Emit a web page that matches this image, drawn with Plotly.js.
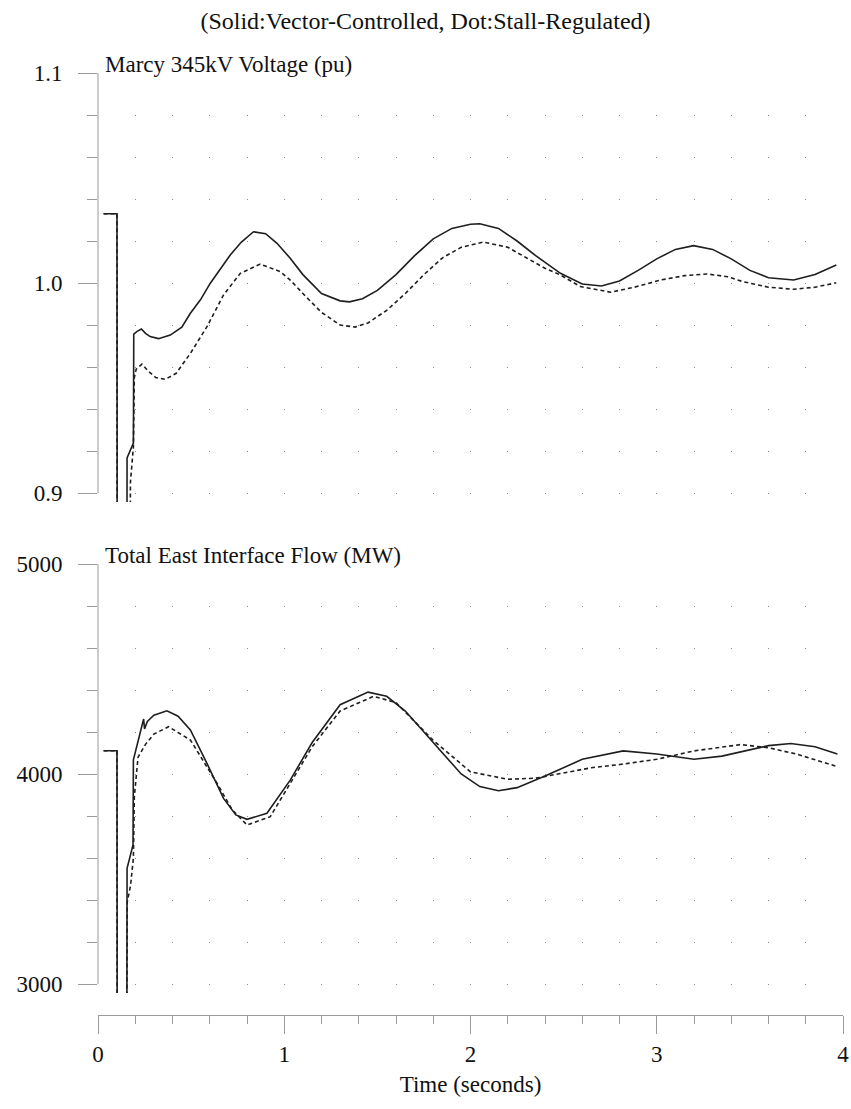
<!DOCTYPE html>
<html>
<head>
<meta charset="utf-8">
<script src="https://cdn.plot.ly/plotly-3.0.1.min.js"></script>
<style>html,body{margin:0;padding:0;background:#fff;}#chart{width:851px;height:1109px;}</style>
</head>
<body>
<div id="chart"></div>
<script>
// ---- Data ----
const chartTitle = "(Solid:Vector-Controlled, Dot:Stall-Regulated)";
const topLabel = "Marcy 345kV Voltage (pu)";
const bottomLabel = "Total East Interface Flow (MW)";
const xTitle = "Time (seconds)";

const xTicks = [0, 1, 2, 3, 4];
const vTicks = [0.9, 1.0, 1.1];
const pTicks = [3000, 4000, 5000];

// Marcy 345kV voltage (pu) – solid: vector-controlled
const tV_solid = [0.03, 0.102, 0.103, 0.155, 0.156, 0.19, 0.192, 0.21, 0.233, 0.255, 0.28, 0.325, 0.388, 0.45, 0.496, 0.55, 0.603, 0.66, 0.71, 0.77, 0.835, 0.9, 0.961, 1.032, 1.1, 1.2, 1.3, 1.35, 1.42, 1.5, 1.6, 1.7, 1.8, 1.9, 2.0, 2.05, 2.15, 2.25, 2.35, 2.483, 2.6, 2.703, 2.8, 2.9, 3.0, 3.1, 3.198, 3.3, 3.4, 3.5, 3.6, 3.735, 3.85, 3.964];
const vV_solid = [1.033, 1.033, 0.85, 0.85, 0.9167, 0.9238, 0.9757, 0.977, 0.9781, 0.976, 0.9745, 0.9735, 0.9752, 0.979, 0.9856, 0.992, 0.9999, 1.007, 1.0133, 1.0195, 1.0244, 1.0235, 1.0189, 1.0118, 1.004, 0.995, 0.9915, 0.991, 0.9925, 0.9965, 1.004, 1.013, 1.021, 1.026, 1.028, 1.0282, 1.026, 1.02, 1.013, 1.0046, 0.9995, 0.9986, 1.001, 1.006, 1.0115, 1.016, 1.0178, 1.016, 1.0115, 1.006, 1.0025, 1.0014, 1.004, 1.0086];

// Marcy 345kV voltage (pu) – dotted: stall-regulated
const tV_dot = [0.03, 0.102, 0.103, 0.172, 0.174, 0.19, 0.195, 0.205, 0.236, 0.27, 0.31, 0.361, 0.42, 0.496, 0.585, 0.674, 0.764, 0.871, 0.979, 1.032, 1.1, 1.2, 1.3, 1.38, 1.45, 1.55, 1.65, 1.75, 1.85, 1.95, 2.07, 2.2, 2.3, 2.4, 2.483, 2.59, 2.752, 2.88, 3.02, 3.15, 3.27, 3.38, 3.465, 3.6, 3.735, 3.85, 3.964];
const vV_dot = [1.033, 1.033, 0.85, 0.85, 0.905, 0.922, 0.955, 0.959, 0.9614, 0.958, 0.955, 0.9541, 0.957, 0.9665, 0.9792, 0.9943, 1.0046, 1.009, 1.0054, 1.0014, 0.995, 0.986, 0.98, 0.979, 0.981, 0.987, 0.995, 1.004, 1.012, 1.017, 1.0195, 1.017, 1.012, 1.007, 1.0038, 0.9983, 0.9956, 0.998, 1.0014, 1.0035, 1.0043, 1.003, 1.0006, 0.998, 0.997, 0.998, 1.0001];

// Total East interface flow (MW) – solid
const tP_solid = [0.03, 0.102, 0.103, 0.155, 0.156, 0.188, 0.19, 0.215, 0.235, 0.245, 0.25, 0.265, 0.3, 0.37, 0.43, 0.496, 0.585, 0.674, 0.74, 0.80, 0.907, 1.032, 1.15, 1.3, 1.45, 1.55, 1.65, 1.8, 1.95, 2.05, 2.15, 2.25, 2.4, 2.6, 2.82, 3.0, 3.2, 3.35, 3.5, 3.6, 3.72, 3.85, 3.97];
const vP_solid = [4111, 4111, 2800, 2800, 3551, 3662, 4067, 4160, 4230, 4262, 4215, 4250, 4280, 4301, 4275, 4210, 4051, 3884, 3805, 3784, 3813, 3971, 4150, 4330, 4390, 4370, 4300, 4150, 4000, 3940, 3920, 3935, 3990, 4070, 4110, 4095, 4070, 4085, 4115, 4135, 4145, 4130, 4095];

// Total East interface flow (MW) – dotted
const tP_dot = [0.03, 0.102, 0.103, 0.155, 0.157, 0.175, 0.19, 0.195, 0.215, 0.254, 0.3, 0.379, 0.496, 0.639, 0.72, 0.80, 0.925, 1.032, 1.15, 1.3, 1.48, 1.6, 1.8, 2.0, 2.2, 2.35, 2.5, 2.65, 2.8, 3.0, 3.2, 3.45, 3.6, 3.75, 3.97];
const vP_dot = [4111, 4111, 2800, 2800, 3390, 3470, 3600, 3890, 4080, 4140, 4190, 4225, 4162, 3956, 3830, 3757, 3797, 3956, 4130, 4300, 4370, 4340, 4160, 4010, 3975, 3980, 4005, 4030, 4045, 4070, 4110, 4140, 4125, 4095, 4035];

// ---- Style ----
const FONT = "Liberation Serif, Times New Roman, serif";
const AX = "#9a9a9a";
const GRID = "#8a8a8a";
const LINE = "#1e1e1e";
const FS = 23;

// geometry (px)
const W = 851, H = 1109;
const mL = 98, mR = 8, mT = 73, mB = 94;
const PH = H - mT - mB;            // paper height
const panelPx = 420, extPx = 9;    // panel height and clip extension
const topBottomPx = 1015 - 493 - extPx; // from paper bottom
const botTopPx = 1015 - 564, botBottomPx = 1015 - 984 - extPx;

const vMin = vTicks[0], vMax = vTicks[vTicks.length - 1];
const pMin = pTicks[0], pMax = pTicks[pTicks.length - 1];
const vExt = (vMax - vMin) * extPx / panelPx;
const pExt = (pMax - pMin) * extPx / panelPx;

// dotted grid: one dot per 42 px row below the top of the panel
const rowPx = panelPx / 10;
const dotPattern = ["0px", (rowPx - 0.5) + "px"].concat(
  Array.from({length: 10}, () => ["1px", (rowPx - 1) + "px"]).flat()).join(",");

const traces = [
  {x: tV_solid, y: vV_solid, xaxis: "x2", yaxis: "y2", mode: "lines",
   line: {color: LINE, width: 1.6}, hoverinfo: "skip"},
  {x: tV_dot, y: vV_dot, xaxis: "x2", yaxis: "y2", mode: "lines",
   line: {color: LINE, width: 1.6, dash: "4px,3px"}, hoverinfo: "skip"},
  {x: tP_solid, y: vP_solid, xaxis: "x", yaxis: "y", mode: "lines",
   line: {color: LINE, width: 1.6}, hoverinfo: "skip"},
  {x: tP_dot, y: vP_dot, xaxis: "x", yaxis: "y", mode: "lines",
   line: {color: LINE, width: 1.6, dash: "4px,3px"}, hoverinfo: "skip"}
];

const gridCommon = {showgrid: true, gridcolor: GRID, gridwidth: 1, griddash: dotPattern};

const layout = {
  width: W, height: H,
  margin: {l: mL, r: mR, t: mT, b: mB},
  paper_bgcolor: "#fff", plot_bgcolor: "rgba(0,0,0,0)",
  showlegend: false,
  font: {family: FONT, size: FS, color: "#111"},
  title: {text: chartTitle, font: {family: FONT, size: 24, color: "#111"},
          xref: "container", x: 0.5, xanchor: "center",
          yref: "container", y: 1 - 21 / H, yanchor: "middle"},
  xaxis: Object.assign({
    range: [xTicks[0], xTicks[xTicks.length - 1]],
    anchor: "free", position: 0,
    tickvals: xTicks, ticks: "outside", ticklen: 18, tickwidth: 1, tickcolor: AX,
    showline: true, linecolor: AX, linewidth: 1, zeroline: false,
    ticklabelstandoff: 0,
    tickfont: {family: FONT, size: FS, color: "#111"},
    minor: Object.assign({dtick: 0.2, tick0: 0, ticks: "outside", ticklen: 8, tickcolor: AX, tickwidth: 1}, gridCommon),
    title: {text: xTitle, font: {family: FONT, size: FS, color: "#111"}, standoff: 10}
  }, gridCommon),
  xaxis2: Object.assign({
    matches: "x", anchor: "y2",
    range: [xTicks[0], xTicks[xTicks.length - 1]],
    tickvals: xTicks, ticks: "", showticklabels: false, showline: false, zeroline: false,
    minor: Object.assign({dtick: 0.2, tick0: 0, ticks: ""}, gridCommon)
  }, gridCommon),
  yaxis: {
    domain: [botBottomPx / PH, botTopPx / PH],
    range: [pMin - pExt, pMax], anchor: "x",
    tickvals: pTicks, tickformat: "d", ticks: "outside", ticklen: 19, tickwidth: 1, tickcolor: AX,
    ticklabelstandoff: 11,
    tickfont: {family: FONT, size: FS, color: "#111"},
    showline: false, showgrid: false, zeroline: false,
    minor: {dtick: 200, tick0: pMin, ticks: "outside", ticklen: 10, tickcolor: AX, tickwidth: 1, showgrid: false}
  },
  yaxis2: {
    domain: [topBottomPx / PH, 1],
    range: [vMin - vExt, vMax], anchor: "x2",
    tickvals: vTicks, tickformat: ".1f", ticks: "outside", ticklen: 19, tickwidth: 1, tickcolor: AX,
    ticklabelstandoff: 11,
    tickfont: {family: FONT, size: FS, color: "#111"},
    showline: false, showgrid: false, zeroline: false,
    minor: {dtick: 0.02, tick0: vMin, ticks: "outside", ticklen: 10, tickcolor: AX, tickwidth: 1, showgrid: false}
  },
  shapes: [
    {type: "line", xref: "paper", x0: 0, x1: 0, yref: "y2", y0: vMin, y1: vMax,
     line: {color: AX, width: 1}, layer: "below"},
    {type: "line", xref: "paper", x0: 0, x1: 0, yref: "y", y0: pMin, y1: pMax,
     line: {color: AX, width: 1}, layer: "below"}
  ],
  annotations: [
    {text: topLabel, xref: "paper", x: 0, xanchor: "left", xshift: 5,
     yref: "y2", y: vMax, yanchor: "bottom", yshift: -6, showarrow: false,
     font: {family: FONT, size: FS, color: "#111"}},
    {text: bottomLabel, xref: "paper", x: 0, xanchor: "left", xshift: 5,
     yref: "y", y: pMax, yanchor: "bottom", yshift: -6, showarrow: false,
     font: {family: FONT, size: FS, color: "#111"}}
  ]
};

Plotly.newPlot("chart", traces, layout, {staticPlot: true, displayModeBar: false});
</script>
</body>
</html>
